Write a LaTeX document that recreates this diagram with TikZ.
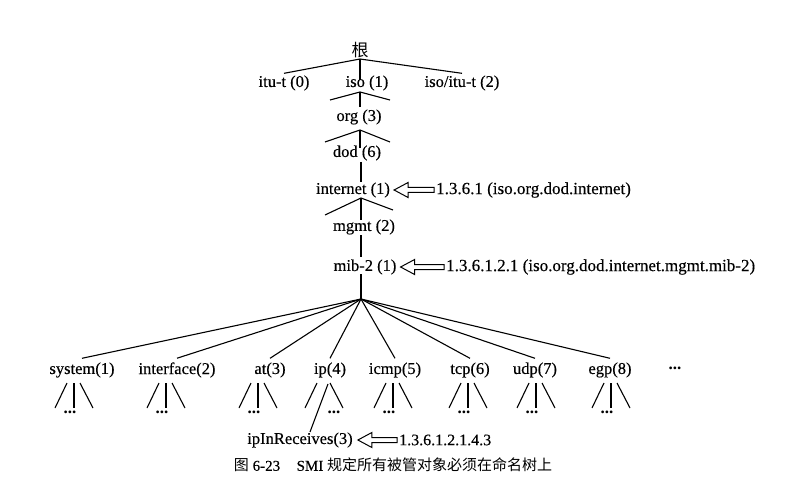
\documentclass[tikz,border=0pt]{standalone}
\usepackage{fontspec}
\setmainfont{Liberation Serif}
\newfontfamily\scan[FakeBold=0.35]{Liberation Serif}
\newfontfamily\cjk{Noto Sans CJK SC}
\usetikzlibrary{calc}
\newcommand\subfan[2]{%
  \coordinate (#1a) at ({#2-7},383);
  \coordinate (#1b) at ({#2-19},408);
  \coordinate (#1c) at (#2,383);
  \coordinate (#1d) at (#2,408);
  \coordinate (#1e) at ({#2+6},383);
  \coordinate (#1f) at ({#2+19},408);
  \draw[twig] (#1a) -- (#1b);
  \draw[twig] (#1c) -- (#1d);
  \draw[twig] (#1e) -- (#1f);
  \node[dotsn] (#1dots) at ({#2-4},412) {...};}
\begin{document}
\begin{tikzpicture}[x=1pt,y=-1pt,
  lbl/.style={font=\scan\fontsize{16.5}{18}\selectfont, inner xsep=1pt, inner ysep=2pt},
  kid/.style={lbl, inner ysep=4pt},
  oid/.style={font=\scan\fontsize{17}{18}\selectfont, inner xsep=1pt, inner ysep=2pt, anchor=west},
  dotsn/.style={font=\fontsize{17}{18}\selectfont\bfseries, inner sep=0pt},
  twig/.style={line width=1.1pt},
  trunk/.style={line width=2pt},
  harrow/.style={draw, line width=1pt, fill=white, line join=miter}]
\useasboundingbox (0,0) rectangle (809,492);

% upper chain
\node[lbl, font=\cjk\fontsize{17}{18}\selectfont] (root) at (360,50) {根};
\node[lbl] (itu) at (284,83) {itu-t (0)};
\node[lbl] (iso) at (367,83) {iso (1)};
\node[lbl] (isoitu) at (462,83) {iso/itu-t (2)};
\node[lbl] (org) at (359,117) {org (3)};
\node[lbl] (dod) at (357,153) {dod (6)};
\node[lbl] (inet) at (353,190) {internet (1)};
\node[lbl] (mgmt) at (364,227) {mgmt (2)};
\node[lbl] (mib) at (365,267) {mib-2 (1)};

\coordinate (r0) at (360,59);
\draw[twig] (r0) -- (itu.north);
\draw[twig] (r0) -- (isoitu.north);
\draw[trunk] (r0) -- (360,80);

\coordinate (i0) at (360,92);
\coordinate (iL) at (330,100);
\coordinate (iR) at (390,100);
\draw[twig] (iL) -- (i0) -- (iR);
\draw[trunk] (i0) -- (i0 |- org.north);

\coordinate (o0) at (360,130);
\coordinate (oL) at (325,142);
\coordinate (oR) at (390,142);
\draw[twig] (oL) -- (o0) -- (oR);
\draw[trunk] (o0) -- (360,148);

\draw[trunk] (361,162) -- (361,182);

\coordinate (n0) at (361,198);
\coordinate (nL) at (325,215);
\coordinate (nR) at (393,210);
\draw[twig] (nL) -- (n0) -- (nR);
\draw[trunk] (n0) -- (361,220);

\draw[trunk] (361,235) -- (361,257);

\coordinate (hub) at (361,299);
\draw[trunk] (361,274) -- (hub);

% children
\node[kid] (sys) at (82,370) {system(1)};
\node[kid] (ifc) at (177,370) {interface(2)};
\node[kid] (at) at (270,370) {at(3)};
\node[kid] (ip) at (330,370) {ip(4)};
\node[kid] (icmp) at (395,370) {icmp(5)};
\node[kid] (tcp) at (470,370) {tcp(6)};
\node[kid] (udp) at (535,370) {udp(7)};
\node[kid] (egp) at (610,370) {egp(8)};
\node[dotsn] (more) at (675,368) {...};

\foreach \c in {sys,ifc,at,ip,icmp,tcp,udp,egp}
  \draw[twig] (hub) -- (\c.north);

\subfan{fs}{74}
\subfan{fi}{166}
\subfan{fa}{258}
\subfan{fc}{393}
\subfan{ft}{468}
\subfan{fu}{536}
\subfan{fe}{611}

% ip sub-fan
\coordinate (pa) at (317,383);
\coordinate (pb) at (305,408);
\coordinate (pe) at (330,383);
\coordinate (pf) at (343,408);
\coordinate (pl) at (328,384);
\draw[twig] (pa) -- (pb);
\draw[twig] (pe) -- (pf);
\node[dotsn] (pdots) at (334,412) {...};

\node[lbl] (ipin) at (300,440) {ipInReceives(3)};
\coordinate (ipinTop) at (310,432);
\draw[twig] (pl) -- (ipinTop);

% labels with hollow arrows
\node[oid] (l1) at (435,190) {1.3.6.1 (iso.org.dod.internet)};
\node[oid] (l2) at (445,267) {1.3.6.1.2.1 (iso.org.dod.internet.mgmt.mib-2)};
\node[oid, font=\scan\fontsize{16}{18}\selectfont] (l3) at (398,440) {1.3.6.1.2.1.4.3};

\foreach \lab/\tgt/\gap in {l1/inet/3, l2/mib/3, l3/ipin/4}{
  \draw[harrow] let \p1=(\lab.west), \p2=(\tgt.east) in
    (\x2+\gap pt,\y2) -- (\x2+\gap pt+14pt,\y2+7.5pt) -- (\x2+\gap pt+14pt,\y2+2.5pt)
    -- (\x1-1pt,\y1+2.5pt) -- (\x1-1pt,\y1-2.5pt) -- (\x2+\gap pt+14pt,\y2-2.5pt)
    -- (\x2+\gap pt+14pt,\y2-7.5pt) -- cycle;
}

% caption
\node[font=\scan\fontsize{15}{16}\selectfont, inner sep=0pt] (cap) at (393,465)
  {{\cjk 图} 6-23\hspace{1.1em}SMI {\cjk 规定所有被管对象必须在命名树上}};
\end{tikzpicture}
\end{document}
